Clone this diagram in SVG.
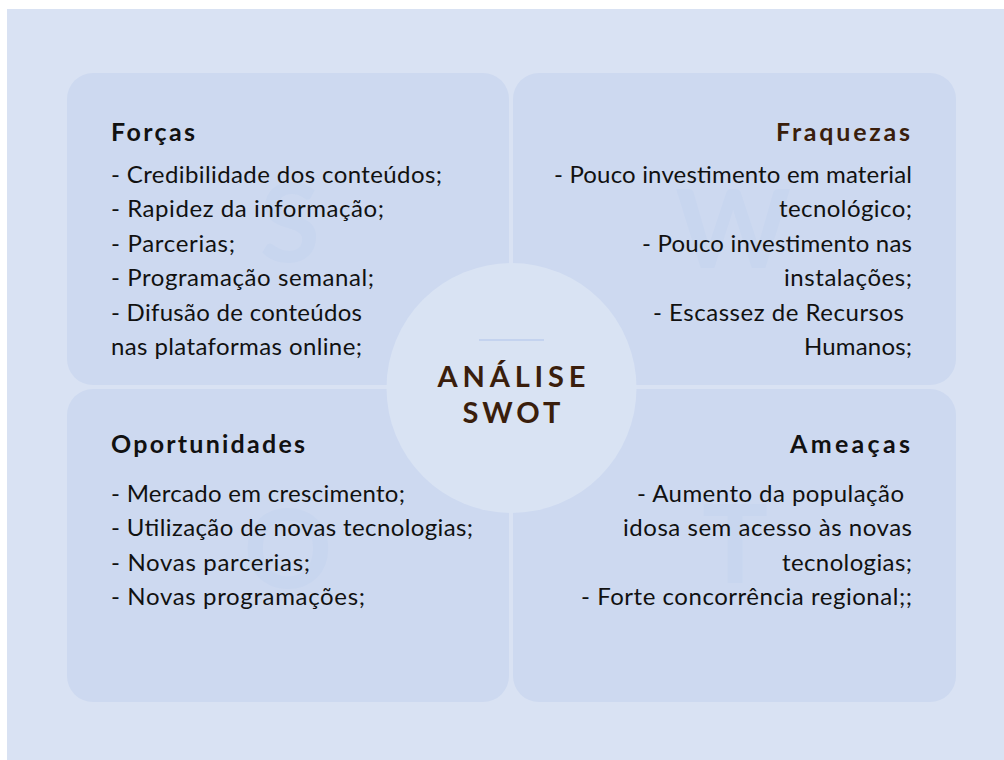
<svg xmlns="http://www.w3.org/2000/svg" width="1004" height="760" viewBox="0 0 1004 760">
<style>
.quad{fill:#cdd9f0}
.ghost{font-family:Lato,"Liberation Sans",sans-serif;font-weight:700;font-size:110px;fill:#c8d6ef;text-anchor:middle}
.title{font-family:Lato,"Liberation Sans",sans-serif;font-weight:700;font-size:25px;letter-spacing:2px;fill:#111}
.body{font-family:Lato,"Liberation Sans",sans-serif;font-size:24px;fill:#111}
.r{text-anchor:end}
.center{font-family:Lato,"Liberation Sans",sans-serif;font-weight:700;font-size:29px;letter-spacing:5px;fill:#3a1e0c;text-anchor:middle}
</style>
<rect x="0" y="0" width="1004" height="760" fill="#ffffff"/>
<rect x="7" y="9" width="997" height="751" fill="#d9e2f3"/>
<g id="forcas">
<rect class="quad" x="67" y="73" width="442" height="312" rx="26"/>
<text class="ghost" x="290" y="262">S</text>
<text class="title" x="111" y="141" textLength="86">Forças</text>
<text class="body" x="111" y="183" textLength="331">- Credibilidade dos conteúdos;</text>
<text class="body" x="111" y="217" textLength="273">- Rapidez da informação;</text>
<text class="body" x="111" y="252" textLength="124">- Parcerias;</text>
<text class="body" x="111" y="286" textLength="263">- Programação semanal;</text>
<text class="body" x="111" y="321" textLength="251">- Difusão de conteúdos</text>
<text class="body" x="111" y="355" textLength="251">nas plataformas online;</text>
</g>
<g id="fraquezas">
<rect class="quad" x="513" y="73" width="443" height="312" rx="26"/>
<text class="ghost" x="733" y="268">W</text>
<text class="title r" x="912" y="141" textLength="136" style="fill:#3a1e0c">Fraquezas</text>
<text class="body r" x="912" y="183" textLength="358">- Pouco investimento em material</text>
<text class="body r" x="912" y="217" textLength="133">tecnológico;</text>
<text class="body r" x="912" y="252" textLength="270">- Pouco investimento nas</text>
<text class="body r" x="912" y="286" textLength="128">instalações;</text>
<text class="body r" x="904" y="321" textLength="251">- Escassez de Recursos</text>
<text class="body r" x="912" y="355" textLength="108">Humanos;</text>
</g>
<g id="oportunidades">
<rect class="quad" x="67" y="389" width="442" height="313" rx="26"/>
<text class="ghost" x="288" y="588">O</text>
<text class="title" x="111" y="453" textLength="196">Oportunidades</text>
<text class="body" x="111" y="502" textLength="294">- Mercado em crescimento;</text>
<text class="body" x="111" y="536" textLength="362">- Utilização de novas tecnologias;</text>
<text class="body" x="111" y="571" textLength="199">- Novas parcerias;</text>
<text class="body" x="111" y="605" textLength="254">- Novas programações;</text>
</g>
<g id="ameacas">
<rect class="quad" x="513" y="389" width="443" height="313" rx="26"/>
<text class="ghost" x="735" y="583">T</text>
<text class="title r" x="912" y="453" textLength="122">Ameaças</text>
<text class="body r" x="904" y="502" textLength="267">- Aumento da população</text>
<text class="body r" x="912" y="536" textLength="289">idosa sem acesso às novas</text>
<text class="body r" x="912" y="571" textLength="130">tecnologias;</text>
<text class="body r" x="912" y="605" textLength="331">- Forte concorrência regional;;</text>
</g>
<g id="centro">
<circle cx="511.5" cy="388" r="125" fill="#d9e3f3"/>
<line x1="479" y1="340" x2="544" y2="340" stroke="#c4d3ef" stroke-width="2"/>
<text class="center" x="514" y="387" textLength="153">ANÁLISE</text>
<text class="center" x="514" y="423" textLength="103">SWOT</text>
</g>
<g id="connectors"></g>
</svg>
